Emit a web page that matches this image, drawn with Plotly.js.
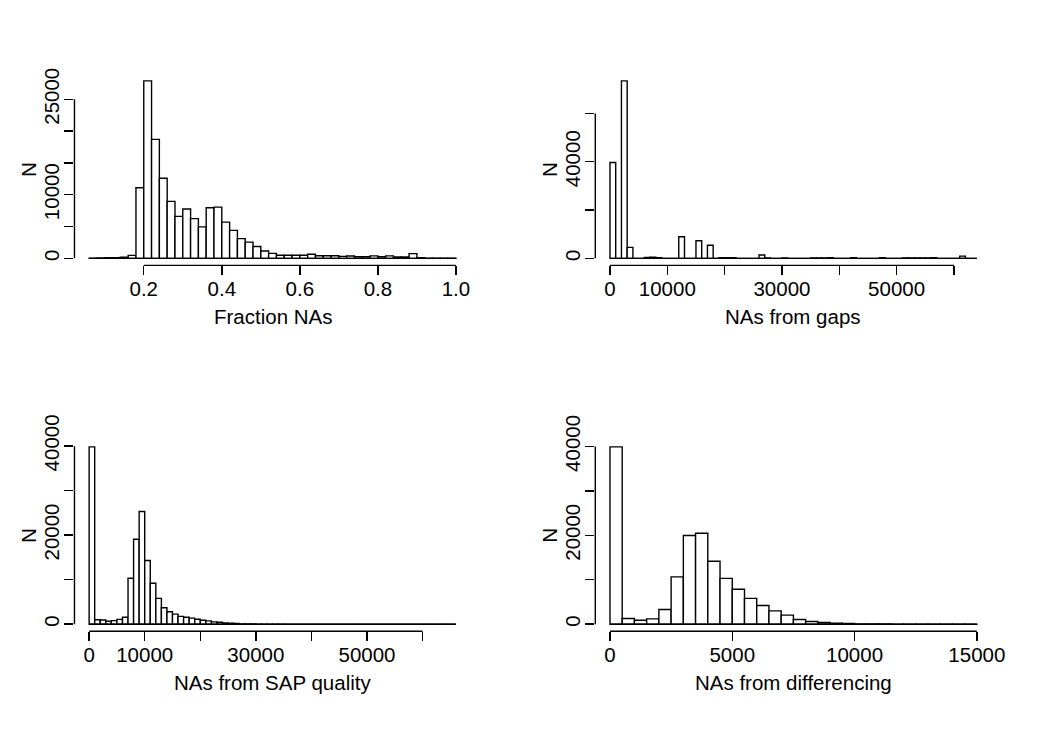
<!DOCTYPE html>
<html>
<head>
<meta charset="utf-8">
<script src="https://cdn.plot.ly/plotly-3.0.1.min.js"></script>
<style>
  html, body { margin: 0; padding: 0; background: #ffffff; }
  #chart { width: 1040px; height: 732px; }
</style>
</head>
<body>
<div id="chart"></div>
<script>
// Histogram bins: first break, bin width, and counts per bin.
const fracStart = 0.06;
const fracStep = 0.02;
const fracCounts = [40, 60, 90, 110, 160, 470, 11100, 27900, 18700, 12600,
  8950, 6600, 7750, 6250, 4950, 7950, 8050, 5700, 4400, 3100,
  2550, 1850, 1150, 780, 480, 480, 480, 480, 640, 400,
  400, 400, 300, 370, 260, 260, 380, 260, 380, 200,
  200, 740, 100, 40, 20, 15, 10];

const gapStart = 0;
const gapStep = 1000;
const gapCounts = [39700, 0, 73500, 4550, 0, 0, 350, 500, 300, 0,
  0, 0, 8950, 0, 0, 7300, 0, 5400, 0, 300,
  250, 250, 0, 0, 0, 0, 1400, 150, 0, 0,
  150, 0, 0, 0, 0, 150, 150, 200, 300, 0,
  0, 0, 250, 0, 0, 0, 0, 300, 0, 0,
  0, 150, 150, 150, 200, 150, 250, 0, 0, 0,
  0, 900, 0, 0];

const sapStart = 0;
const sapStep = 1000;
const sapCounts = [39800, 1000, 950, 650, 800, 1080, 1550, 10300, 19050, 25300,
  14300, 9200, 5800, 3700, 2800, 2250, 1750, 1550, 1350, 1120,
  900, 750, 530, 450, 300, 220, 150, 80, 50, 30,
  20, 10, 10, 5, 5, 0, 0, 0, 0, 0,
  0, 0, 0, 0, 0, 0, 0, 0, 0, 0,
  0, 0, 0, 0, 0, 0, 0, 0, 0, 0,
  0, 0, 0, 0, 0, 0];

const diffStart = 0;
const diffStep = 500;
const diffCounts = [39900, 1280, 900, 1200, 3300, 10650, 19950, 20450, 14150, 10300,
  7850, 5800, 4200, 3000, 2050, 1050, 600, 380, 230, 150,
  80, 50, 30, 20, 15, 10, 8, 5, 4, 3];

// Axis ticks and the labels that fit without overlapping.
const fracXTicks = [0.2, 0.4, 0.6, 0.8, 1.0];
const fracXLabels = ['0.2', '0.4', '0.6', '0.8', '1.0'];
const fracYTicks = [0, 5000, 10000, 15000, 20000, 25000];
const fracYLabels = ['0', '', '10000', '', '', '25000'];

const gapXTicks = [0, 10000, 20000, 30000, 40000, 50000, 60000];
const gapXLabels = ['0', '10000', '', '30000', '', '50000', ''];
const gapYTicks = [0, 20000, 40000, 60000];
const gapYLabels = ['0', '', '40000', ''];

const sapXTicks = [0, 10000, 20000, 30000, 40000, 50000, 60000];
const sapXLabels = ['0', '10000', '', '30000', '', '50000', ''];
const sapYTicks = [0, 10000, 20000, 30000, 40000];
const sapYLabels = ['0', '', '20000', '', '40000'];

const diffXTicks = [0, 5000, 10000, 15000];
const diffXLabels = ['0', '5000', '10000', '15000'];
const diffYTicks = [0, 10000, 20000, 30000, 40000];
const diffYLabels = ['0', '', '20000', '', '40000'];

const xTitles = ['Fraction NAs', 'NAs from gaps', 'NAs from SAP quality', 'NAs from differencing'];
const yTitle = 'N';

const FONT = '"Liberation Sans", Arial, Helvetica, sans-serif';
const FS = 20.5;
const LW = 1.4;

const panels = [
  { start: fracStart, step: fracStep, counts: fracCounts, xt: fracXTicks, xl: fracXLabels, yt: fracYTicks, yl: fracYLabels },
  { start: gapStart, step: gapStep, counts: gapCounts, xt: gapXTicks, xl: gapXLabels, yt: gapYTicks, yl: gapYLabels },
  { start: sapStart, step: sapStep, counts: sapCounts, xt: sapXTicks, xl: sapXLabels, yt: sapYTicks, yl: sapYLabels },
  { start: diffStart, step: diffStep, counts: diffCounts, xt: diffXTicks, xl: diffXLabels, yt: diffYTicks, yl: diffYLabels }
];

// 2 x 2 grid of plot regions (paper fractions)
const colDomains = [[0.0716, 0.4525], [0.5724, 0.9534]];
const rowDomains = [[0.6374, 0.8992], [0.1376, 0.3992]];

const traces = [];
const shapes = [];
const annotations = [];
const layout = {
  width: 1040, height: 732,
  margin: { l: 0, r: 0, t: 0, b: 0 },
  paper_bgcolor: '#ffffff', plot_bgcolor: '#ffffff',
  showlegend: false,
  bargap: 0,
  hovermode: false,
  font: { family: FONT, size: FS, color: '#000000' }
};

panels.forEach((p, i) => {
  const n = i + 1;
  const xs = n === 1 ? '' : String(n);
  const xName = 'x' + xs, yName = 'y' + xs;
  const lo = p.start;
  const hi = p.start + p.step * p.counts.length;
  const span = hi - lo;
  const ymax = Math.max(...p.counts);
  const centers = p.counts.map((_, k) => lo + p.step * (k + 0.5));

  traces.push({
    type: 'bar',
    x: centers,
    y: p.counts,
    width: p.step,
    xaxis: xName, yaxis: yName,
    marker: { color: '#ffffff', line: { color: '#000000', width: LW } }
  });

  const col = i % 2, row = Math.floor(i / 2);
  layout['xaxis' + xs] = {
    domain: colDomains[col],
    anchor: yName,
    range: [lo - 0.04 * span, hi + 0.04 * span],
    showgrid: false, zeroline: false, showline: false,
    ticks: 'outside', ticklen: 9, tickwidth: LW, tickcolor: '#000000',
    tickmode: 'array', tickvals: p.xt, ticktext: p.xl,
    ticklabelstandoff: -4,
    tickfont: { family: FONT, size: FS, color: '#000000' }
  };
  layout['yaxis' + xs] = {
    domain: rowDomains[row],
    anchor: xName,
    range: [-0.04 * ymax, 1.04 * ymax],
    showgrid: false, zeroline: false, showline: false,
    ticks: 'outside', ticklen: 9, tickwidth: LW, tickcolor: '#000000',
    tickmode: 'array', tickvals: p.yt, ticktext: p.yl,
    tickangle: -90,
    ticklabelstandoff: -3,
    tickfont: { family: FONT, size: FS, color: '#000000' }
  };

  // axis lines span first to last tick
  shapes.push({
    type: 'line', xref: xName, yref: yName + ' domain',
    x0: p.xt[0], x1: p.xt[p.xt.length - 1], y0: 0, y1: 0,
    line: { color: '#000000', width: LW }
  });
  shapes.push({
    type: 'line', xref: xName + ' domain', yref: yName,
    x0: 0, x1: 0, y0: p.yt[0], y1: p.yt[p.yt.length - 1],
    line: { color: '#000000', width: LW }
  });
  // histogram baseline across all bins
  shapes.push({
    type: 'line', xref: xName, yref: yName,
    x0: lo, x1: hi, y0: 0, y1: 0,
    line: { color: '#000000', width: LW }
  });

  annotations.push({
    text: xTitles[i], showarrow: false,
    xref: xName + ' domain', yref: yName + ' domain',
    x: 0.5, y: 0, xanchor: 'center', yanchor: 'middle', yshift: -51,
    font: { family: FONT, size: FS, color: '#000000' }
  });
  annotations.push({
    text: yTitle, showarrow: false, textangle: -90,
    xref: xName + ' domain', yref: yName + ' domain',
    x: 0, y: 0.5, xanchor: 'center', yanchor: 'middle', xshift: -46,
    font: { family: FONT, size: FS, color: '#000000' }
  });
});

layout.shapes = shapes;
layout.annotations = annotations;

Plotly.newPlot('chart', traces, layout, { staticPlot: true, displayModeBar: false });
</script>
</body>
</html>
